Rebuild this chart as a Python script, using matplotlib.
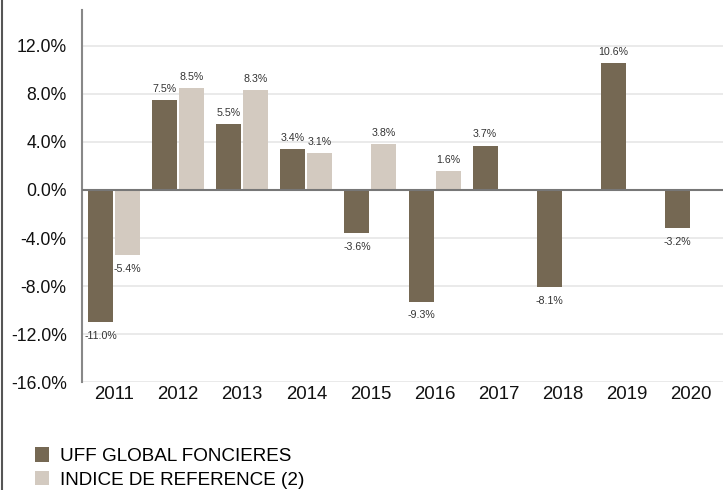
import numpy as np
import matplotlib
matplotlib.use('Agg')
import matplotlib.pyplot as plt
from matplotlib.lines import Line2D

plt.rcParams['font.family'] = ['Liberation Sans', 'DejaVu Sans']

years = ['2011', '2012', '2013', '2014', '2015', '2016', '2017', '2018', '2019', '2020']
uff = [-11.0, 7.5, 5.5, 3.4, -3.6, -9.3, 3.7, -8.1, 10.6, -3.2]
indice = [-5.4, 8.5, 8.3, 3.1, 3.8, 1.6, None, None, None, None]
yticks = [12, 8, 4, 0, -4, -8, -12, -16]

dark = '#756853'
light = '#d3cac0'

fig = plt.figure(figsize=(7.23, 4.9), dpi=100)
ax = fig.add_axes([0.1134, 0.2204, 0.8866, 0.7592])

x = np.arange(len(years))
w = 0.39
off = 0.21

b1 = ax.bar(x - off, uff, w, color=dark, label='UFF GLOBAL FONCIERES', zorder=3)
ix = [i for i, v in enumerate(indice) if v is not None]
iv = [indice[i] for i in ix]
b2 = ax.bar(np.array(ix) + off, iv, w, color=light, label='INDICE DE REFERENCE (2)', zorder=3)

def lab(xs, vals):
    for xi, v in zip(xs, vals):
        dy = 8 if v >= 0 else -10
        ax.annotate('%.1f%%' % v, (xi, v), xytext=(0, dy), textcoords='offset points',
                    ha='center', va='center', fontsize=7.7, color='#333333', zorder=4)

lab(x - off, uff)
lab(np.array(ix) + off, iv)

ax.set_xlim(-0.5, len(years) - 0.5)
ax.set_ylim(-16, 15)
ax.set_yticks(yticks)
ax.set_yticklabels(['%.1f%%' % t for t in yticks], fontsize=12.7, color='#111111')
ax.set_xticks(x)
ax.set_xticklabels(years, fontsize=13.4, color='#111111')
ax.tick_params(axis='both', length=0)
ax.tick_params(axis='y', pad=11)
ax.tick_params(axis='x', pad=3)

for t in yticks:
    ax.axhline(t, color='#e6e6e6', lw=1.2, zorder=1)
ax.axhline(0, color='#777777', lw=1.5, zorder=4)

for s in ['top', 'right', 'bottom']:
    ax.spines[s].set_visible(False)
ax.spines['left'].set_color('#888888')
ax.spines['left'].set_linewidth(1.5)

fig.add_artist(Line2D([0.003, 0.003], [0, 1], transform=fig.transFigure, color='#555555', lw=1.5))

fig.legend(handles=[b1, b2], loc='upper left', bbox_to_anchor=(0.048, 0.087),
           frameon=False, fontsize=13.6, handlelength=0.78, handleheight=0.78,
           handletextpad=0.55, labelspacing=0.32, borderpad=0, borderaxespad=0)

fig.savefig('out.png', dpi=100)
